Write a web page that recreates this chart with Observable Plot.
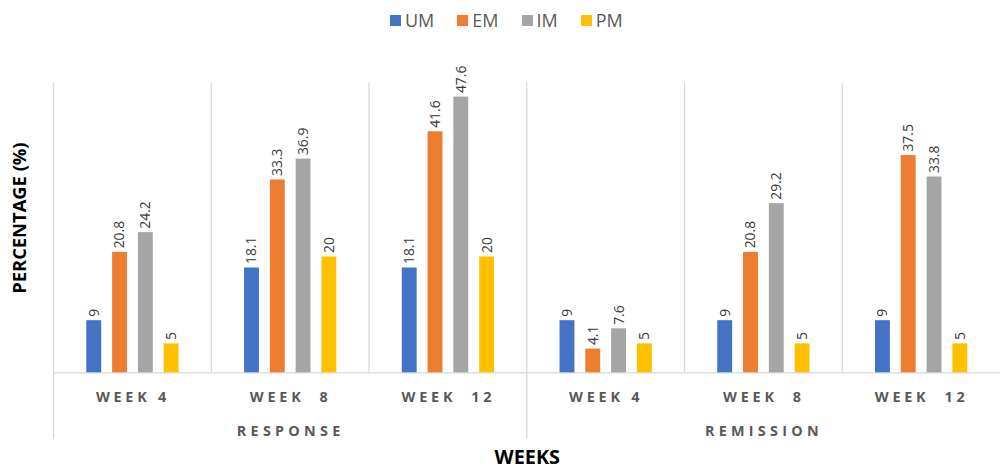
<!DOCTYPE html>
<html>
<head>
<meta charset="utf-8">
<script src="https://cdn.jsdelivr.net/npm/d3@7"></script>
<script src="https://cdn.jsdelivr.net/npm/@observablehq/plot@0.6"></script>
<style>
  html, body { margin: 0; padding: 0; background: white; }
  #wrap { width: 1000px; height: 469px; overflow: hidden; position: relative; background: white; }
  #legend { height: 40px; display: flex; align-items: center; padding-left: 390px; box-sizing: border-box;
            font-family: "Open Sans", sans-serif; font-size: 18px; color: #595959; }
  #legend .item { display: flex; align-items: center; margin-right: 23px; }
  #legend .sw { width: 11px; height: 11px; margin-right: 4px; }
  #chart svg { display: block; }
  #chart svg [aria-label="fx-axis tick label"] text { letter-spacing: 3.8px; }
  .grp { letter-spacing: 4.3px; }
</style>
</head>
<body>
<div id="wrap">
  <div id="legend"></div>
  <div id="chart"></div>
</div>
<script>
const series = ["UM", "EM", "IM", "PM"];
const colors = ["#4472C4", "#ED7D31", "#A5A5A5", "#FFC000"];
const groups = ["Response W4", "Response W8", "Response W12", "Remission W4", "Remission W8", "Remission W12"];
const weekLabels = ["WEEK 4", "WEEK\u00a0\u00a08", "WEEK\u00a0\u00a012", "WEEK 4", "WEEK\u00a0\u00a08", "WEEK\u00a0\u00a012"];
const outcomes = ["RESPONSE", "REMISSION"];
const um = [9, 18.1, 18.1, 9, 9, 9];
const em = [20.8, 33.3, 41.6, 4.1, 20.8, 37.5];
const im = [24.2, 36.9, 47.6, 7.6, 29.2, 33.8];
const pm = [5, 20, 20, 5, 5, 5];
const seriesValues = [um, em, im, pm];

const data = groups.flatMap((g, i) => series.map((s, j) => ({group: g, series: s, value: seriesValues[j][i]})));

// legend
const legendEl = document.getElementById("legend");
series.forEach((s, j) => {
  const item = document.createElement("span");
  item.className = "item";
  const sw = document.createElement("span");
  sw.className = "sw";
  sw.style.background = colors[j];
  item.appendChild(sw);
  item.appendChild(document.createTextNode(s));
  legendEl.appendChild(item);
});

const chart = Plot.plot({
  width: 1008,
  height: 429,
  marginLeft: 54,
  marginRight: 0,
  marginTop: 43,
  marginBottom: 94,
  style: {fontFamily: "'Open Sans', sans-serif", background: "white", overflow: "visible"},
  fx: {domain: groups, padding: 0},
  x: {domain: series, paddingInner: 0.44, paddingOuter: 1.17, axis: null},
  y: {domain: [0, 50], axis: null},
  color: {domain: series, range: colors},
  marks: [
    Plot.ruleY([0], {stroke: "#d9d9d9", strokeWidth: 1.3}),
    Plot.barY(data, {fx: "group", x: "series", y: "value", fill: "series"}),
    Plot.text(data, {fx: "group", x: "series", y: "value", text: d => String(d.value),
      rotate: -90, textAnchor: "start", dy: -4, fontSize: 14, fill: "#3a3a3a"}),
    Plot.axisFx({anchor: "bottom", tickSize: 0, tickPadding: 19, label: null,
      tickFormat: d => weekLabels[groups.indexOf(d)], fontSize: 14.5, fontWeight: "bold", fill: "#595959"}),
    Plot.text(outcomes, {fx: (d, i) => groups[i * 3 + 1], frameAnchor: "bottom", dy: 59, text: d => d,
      textAnchor: "middle", lineAnchor: "middle", fontSize: 14.5, fontWeight: "bold", fill: "#595959", className: "grp"}),
    Plot.text(["WEEKS"], {fx: () => groups[2], frameAnchor: "bottom-right", dy: 85, text: d => d,
      textAnchor: "middle", lineAnchor: "middle", fontSize: 20, fontWeight: "bold", fill: "#000"}),
    Plot.text(["PERCENTAGE (%)"], {fx: () => groups[0], frameAnchor: "left", dx: -34, dy: -10, text: d => d,
      rotate: -90, textAnchor: "middle", lineAnchor: "middle", fontSize: 18.5, fontWeight: "bold", fill: "#000"})
  ]
});
document.getElementById("chart").appendChild(chart);

// separator lines at facet boundaries, from the library's scales
const fxScale = chart.scale("fx");
const yScale = chart.scale("y");
const svgSel = d3.select(chart);
const yTop = yScale.apply(50), yBase = yScale.apply(0);
groups.forEach((g, i) => {
  const xpos = fxScale.apply(g);
  svgSel.append("line")
    .attr("x1", xpos).attr("x2", xpos)
    .attr("y1", yTop).attr("y2", i % 3 === 0 ? yBase + 67 : yBase)
    .attr("stroke", "#d9d9d9").attr("stroke-width", 1.3);
});
</script>
</body>
</html>
